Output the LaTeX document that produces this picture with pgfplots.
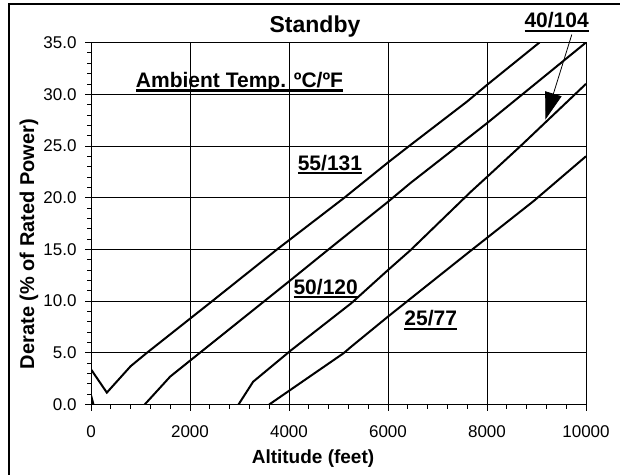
\documentclass[border=0pt]{standalone}
\usepackage{fontspec}
\setmainfont{Liberation Sans}
\usepackage{pgfplots}
\pgfplotsset{compat=1.18}
\usetikzlibrary{arrows.meta}

% bold text with a thick Excel-like underline
\newcommand{\ulbf}[1]{\setbox0=\hbox{\bfseries #1}\rlap{\rule[-4.3bp]{\wd0}{2.2bp}}\box0}

\begin{document}
\begin{tikzpicture}
\useasboundingbox (0,0) rectangle (620bp,475bp);
\draw[line width=1.2bp] (9bp,0) -- (9bp,471bp) -- (620bp,471bp);
\begin{axis}[
    at={(91bp,70.5bp)}, anchor=south west,
    scale only axis, width=495bp, height=362bp,
    xmin=0, xmax=10000, ymin=0, ymax=35,
    xtick={0,2000,...,10000}, ytick={0,5,...,35},
    minor x tick num=4, minor y tick num=4,
    grid=major, major grid style={black, line width=0.7bp},
    axis line style={black, line width=0.9bp},
    tick align=outside, tick pos=left,
    major tick length=6bp, minor tick length=4bp,
    tick style={black, line width=0.7bp},
    /pgf/number format/assume math mode=true,
    scaled x ticks=false,
    xticklabel style={font=\fontsize{17bp}{20bp}\selectfont, yshift=-12bp,
        /pgf/number format/.cd, fixed, 1000 sep={}},
    yticklabel style={font=\fontsize{17bp}{20bp}\selectfont, xshift=-5bp,
        /pgf/number format/.cd, fixed, fixed zerofill, precision=1},
    every axis title shift=0pt,
    title={Standby},
    title style={font=\fontsize{23bp}{26bp}\selectfont\bfseries,
        at={(axis description cs:0.4525,1.0271)}, anchor=base},
    xlabel={Altitude (feet)},
    xlabel style={font=\fontsize{19bp}{22bp}\selectfont\bfseries,
        at={(axis description cs:0.4485,-0.1633)}, anchor=base},
    ylabel={Derate (\% of Rated Power)},
    ylabel style={font=\fontsize{20bp}{23bp}\selectfont\bfseries,
        at={(axis description cs:-0.1253,0.4434)}, anchor=center},
    clip mode=individual,
]
% 55/131
\addplot[black, line width=2bp, no markers] coordinates {(0,3.4) (320,1.15) (800,3.7) (1130,5.0) (2450,10.0) (3760,15.0)
    (5120,20.0) (6000,23.4) (6430,25.0) (7600,29.3) (8000,30.9) (9060,35.0)};
% 50/120
\addplot[black, line width=2bp, no markers] coordinates {(1085,0) (1600,2.7) (4000,11.9) (4800,15.0) (6000,19.6)
    (6450,21.4) (7680,26.0) (8000,27.2) (10000,35.0)};
% 40/104
\addplot[black, line width=2bp, no markers] coordinates {(2980,0) (3275,2.2) (4030,5.2) (5260,9.8) (6000,13.0)
    (6450,14.9) (7680,20.6) (8000,22.0) (8680,25.0) (10000,31.0)};
% 25/77
\addplot[black, line width=2bp, no markers] coordinates {(3600,0) (5100,4.95) (5260,5.6) (6000,8.5) (7600,14.6)
    (8950,19.7) (10000,24.0)};
% short segment at the origin
\addplot[black, line width=2bp, no markers] coordinates {(0,0.9) (50,0)};

\node[font=\fontsize{21bp}{24bp}\selectfont, anchor=base] at (axis cs:3000,30.67) {\ulbf{Ambient Temp. ºC/ºF}};
\node[font=\fontsize{21bp}{24bp}\selectfont, anchor=base] at (axis cs:4827,22.67) {\ulbf{55/131}};
\node[font=\fontsize{21bp}{24bp}\selectfont, anchor=base] at (axis cs:4741,10.68) {\ulbf{50/120}};
\node[font=\fontsize{21bp}{24bp}\selectfont, anchor=base] at (axis cs:6864,7.59) {\ulbf{25/77}};
\node[font=\fontsize{21bp}{24bp}\selectfont, anchor=base] at (axis cs:9407,36.43) {\ulbf{40/104}};
\draw[line width=0.8bp, -{Triangle[length=27bp, width=17bp]}]
    (axis cs:9713,35.77) -- (axis cs:9180,27.55);
\end{axis}
\end{tikzpicture}
\end{document}
